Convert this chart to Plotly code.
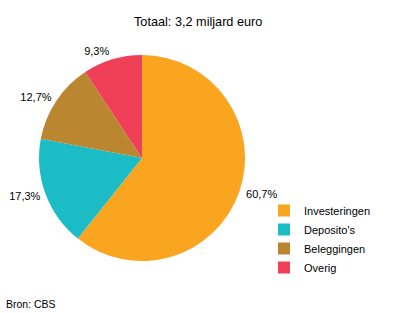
import plotly.graph_objects as go

categories = ["Investeringen", "Deposito's", "Beleggingen", "Overig"]
values = [60.7, 17.3, 12.7, 9.3]
colors = ["#F9A51F", "#1CBCC6", "#BB8630", "#EF4058"]
title_text = "Totaal: 3,2 miljard euro"
source_text = "Bron: CBS"

labels_txt = [f"{v:.1f}".replace(".", ",") + "%" for v in values]

W, H = 396, 313
cx, cy, r = 142, 158, 103
r_lab = r + 3  # radius of the (transparent) label ring


def dom(rad, x0=cx, y0=cy):
    return dict(x=[(x0 - rad) / W, (x0 + rad) / W],
                y=[(H - (y0 + rad)) / H, (H - (y0 - rad)) / H])


FONT = "Liberation Sans, Arial, sans-serif"

fig = go.Figure()
# transparent ring carrying the outside percentage labels
fig.add_trace(go.Pie(
    labels=categories, values=values, text=labels_txt,
    textinfo="text", textposition="outside",
    sort=False, direction="clockwise", rotation=0,
    marker=dict(colors=["rgba(0,0,0,0)"] * len(values), line=dict(width=0)),
    outsidetextfont=dict(family=FONT, size=11, color="#000"),
    hoverinfo="skip", showlegend=False,
    domain=dom(r_lab, cx + 1, cy), automargin=False,
))
# visible pie
fig.add_trace(go.Pie(
    labels=categories, values=values, text=labels_txt,
    textinfo="none",
    sort=False, direction="clockwise", rotation=0,
    marker=dict(colors=colors, line=dict(width=0)),
    hoverinfo="label+text",
    domain=dom(r), automargin=False,
))

fig.update_layout(
    width=W, height=H,
    margin=dict(l=0, r=0, t=0, b=0),
    paper_bgcolor="white", plot_bgcolor="white",
    font=dict(family=FONT, size=11, color="#000"),
    legend=dict(x=264 / W, y=1 - 196 / H, xanchor="left", yanchor="top",
                font=dict(size=11), itemwidth=30, tracegroupgap=0,
                bgcolor="rgba(0,0,0,0)"),
    annotations=[
        dict(text=title_text, x=197.5 / W, y=1 - 22 / H, xref="paper", yref="paper",
             xanchor="center", yanchor="middle", showarrow=False, font=dict(size=12.7)),
        dict(text=source_text, x=4 / W, y=1 - 304 / H, xref="paper", yref="paper",
             xanchor="left", yanchor="middle", showarrow=False, font=dict(size=10.5)),
    ],
)

fig.write_html("out.html")
